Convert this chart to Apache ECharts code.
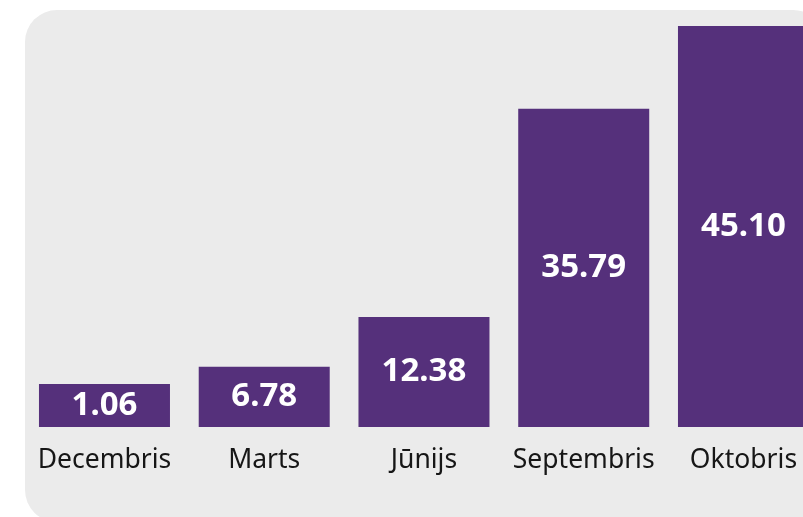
<!DOCTYPE html>
<html>
<head>
<meta charset="utf-8">
<script src="https://cdn.jsdelivr.net/npm/echarts@6/dist/echarts.min.js"></script>
<style>
  html, body { margin: 0; padding: 0; background: #ffffff; }
  #chart { width: 803px; height: 517px; }
</style>
</head>
<body>
<div id="chart"></div>
<script>
// mēneši un vērtības
const months = ['Decembris', 'Marts', 'Jūnijs', 'Septembris', 'Oktobris'];
const values = [1.06, 6.78, 12.38, 35.79, 45.10];

const chart = echarts.init(document.getElementById('chart'), null, { renderer: 'canvas' });

chart.setOption({
  animation: false,
  backgroundColor: '#ffffff',
  graphic: [
    {
      type: 'rect',
      z: -10,
      silent: true,
      shape: { x: 25, y: 10, width: 800, height: 512, r: 32 },
      style: { fill: '#ebebeb' }
    }
  ],
  grid: {
    left: 24.6,
    width: 798.75,
    top: 26,
    bottom: 90,
    outerBoundsMode: 'none',
    containLabel: false
  },
  xAxis: {
    type: 'category',
    data: months,
    axisLine: { show: false },
    axisTick: { show: false },
    axisLabel: {
      interval: 0,
      margin: 20,
      color: '#161616',
      fontFamily: 'Noto Sans',
      fontSize: 26.5
    }
  },
  yAxis: {
    type: 'value',
    min: 0,
    max: 45.10,
    show: false,
    splitLine: { show: false }
  },
  series: [{
    type: 'bar',
    data: values,
    barWidth: 131,
    barMinHeight: 43,
    itemStyle: { color: '#55307b' },
    label: {
      show: true,
      position: 'inside',
      color: '#ffffff',
      fontFamily: 'Noto Sans',
      fontWeight: 'bold',
      fontSize: 33,
      formatter: p => p.value.toFixed(2)
    }
  }]
});
</script>
</body>
</html>
